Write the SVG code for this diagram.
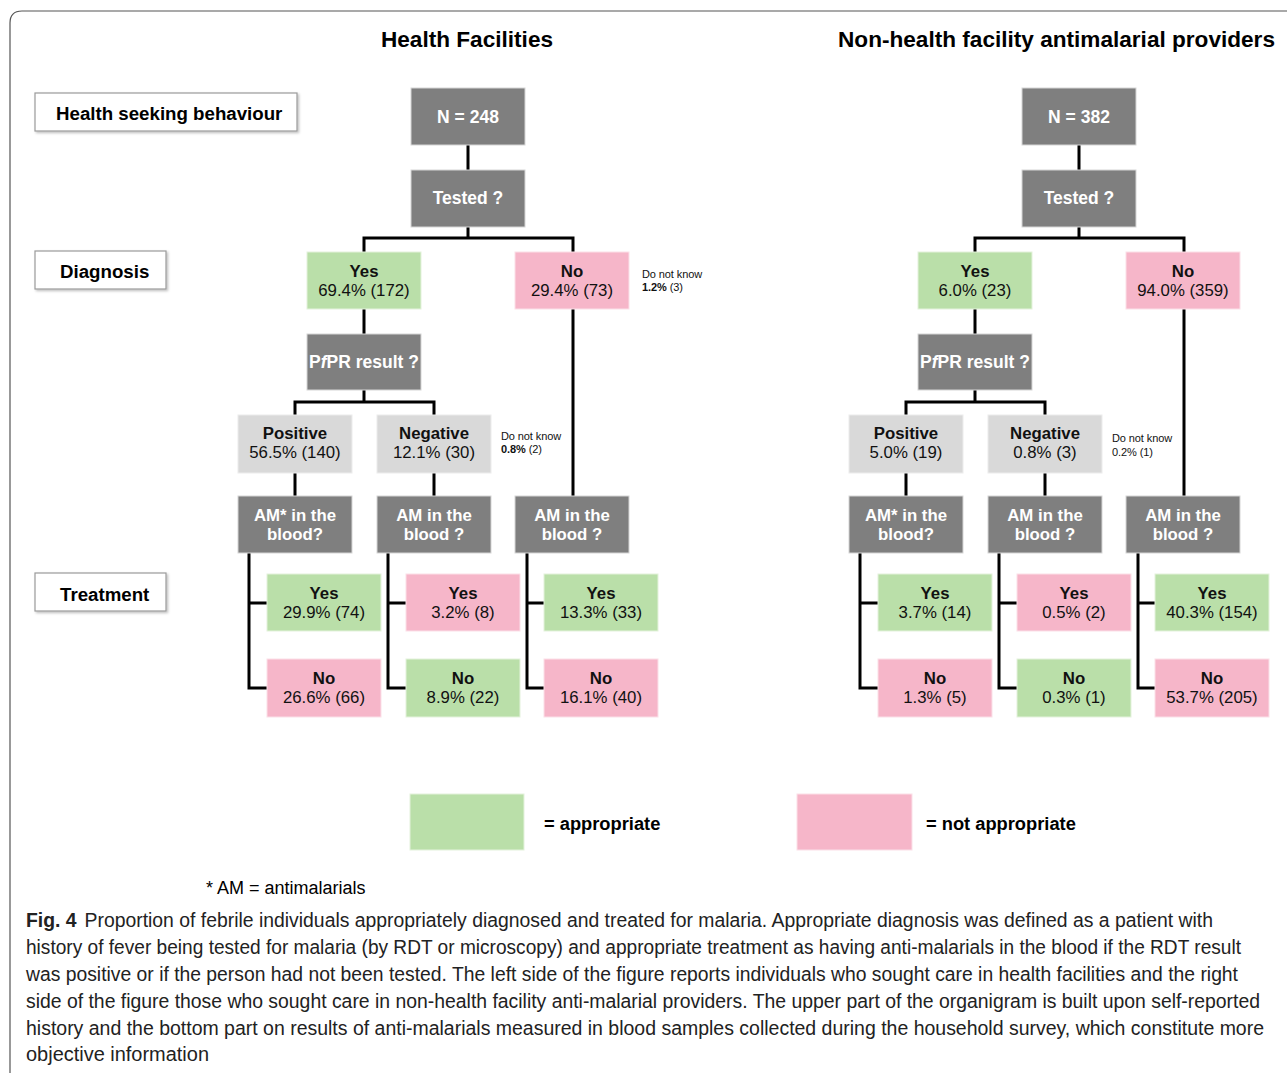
<svg xmlns="http://www.w3.org/2000/svg" width="1287" height="1073" viewBox="0 0 1287 1073">
<style>
text{font-family:"Liberation Sans",Arial,sans-serif;}
.g{fill:#7f7f7f;stroke:#d6d6d6;stroke-width:1}
.l{fill:#d9d9d9;stroke:#ececec;stroke-width:1}
.ok{fill:#badfa9;stroke:#e4f2dc;stroke-width:1}
.no{fill:#f6b6c9;stroke:#fbe0e8;stroke-width:1}
.wt{fill:#fff;font-weight:bold;font-size:16.8px;text-anchor:middle}
.wt1{fill:#fff;font-weight:bold;font-size:17.5px;text-anchor:middle}
.bt{fill:#111;font-weight:bold;font-size:16.8px;text-anchor:middle}
.vt{fill:#111;font-size:16.8px;text-anchor:middle}
.sm{fill:#111;font-size:11px;letter-spacing:-0.1px}
.lab{fill:#fff;stroke:#9a9a9a;stroke-width:1.2}
.labt{fill:#000;font-weight:bold;font-size:18.7px}
.lgt{fill:#000;font-weight:bold;font-size:18.3px}
.ttl{fill:#000;font-weight:bold;font-size:22.6px;text-anchor:middle}
.cap{fill:#222;font-size:19.5px}
.conn path{fill:none;stroke:#000;stroke-width:3}
</style>
<defs>
<filter id="sh" x="-5%" y="-10%" width="115%" height="130%"><feDropShadow dx="1.5" dy="1.5" stdDeviation="1" flood-color="#000" flood-opacity="0.25"/></filter>
</defs>
<path d="M10 1073 V23 Q10 11 22 11 H1287" fill="none" stroke="#555" stroke-width="1.2"/>
<text class="ttl" x="467" y="47">Health Facilities</text>
<text class="ttl" x="1056.5" y="47">Non-health facility antimalarial providers</text>
<g id="label-hsb"><rect class="lab" x="35" y="93" width="262" height="38" filter="url(#sh)"/><text class="labt" x="56" y="120">Health seeking behaviour</text></g>
<g id="label-diag"><rect class="lab" x="35" y="251" width="131" height="38" filter="url(#sh)"/><text class="labt" x="60" y="278">Diagnosis</text></g>
<g id="label-treat"><rect class="lab" x="35" y="573" width="131" height="38" filter="url(#sh)"/><text class="labt" x="60" y="601">Treatment</text></g>
<g class="conn" id="connectors">
<path d="M468 145V170M468 227V238M364 252V238H573V252M364 309V334M364 390V402M295 415V402H434V415M573 309V496M295 473V496M434 473V496M249 553V688H267M249 603H267M388 553V688H406M388 603H406M527 553V688H544M527 603H544"/>
<path transform="translate(611 0)" d="M468 145V170M468 227V238M364 252V238H573V252M364 309V334M364 390V402M295 415V402H434V415M573 309V496M295 473V496M434 473V496M249 553V688H267M249 603H267M388 553V688H406M388 603H406M527 553V688H544M527 603H544"/>
</g>
<g id="hf-n"><rect class="g" x="411" y="88" width="114" height="57"/><text class="wt1" x="468" y="123">N = 248</text></g>
<g id="hf-tested"><rect class="g" x="411" y="170" width="114" height="57"/><text class="wt1" x="468" y="204">Tested ?</text></g>
<g id="hf-yes"><rect class="ok" x="307" y="252" width="114" height="57"/><text class="bt" x="364" y="277">Yes</text><text class="vt" x="364" y="296">69.4% (172)</text></g>
<g id="hf-no"><rect class="no" x="515" y="252" width="114" height="57"/><text class="bt" x="572" y="277">No</text><text class="vt" x="572" y="296">29.4% (73)</text></g>
<g id="hf-dnk1"><text class="sm" x="642" y="278">Do not know</text><text class="sm" x="642" y="291"><tspan font-weight="bold">1.2%</tspan> (3)</text></g>
<g id="hf-pfpr"><rect class="g" x="307" y="334" width="114" height="56"/><text class="wt1" x="364" y="368">P<tspan font-style="italic">f</tspan>PR result ?</text></g>
<g id="hf-pos"><rect class="l" x="238" y="415" width="114" height="58"/><text class="bt" x="295" y="439">Positive</text><text class="vt" x="295" y="458">56.5% (140)</text></g>
<g id="hf-neg"><rect class="l" x="377" y="415" width="114" height="58"/><text class="bt" x="434" y="439">Negative</text><text class="vt" x="434" y="458">12.1% (30)</text></g>
<g id="hf-dnk2"><text class="sm" x="501" y="440">Do not know</text><text class="sm" x="501" y="453"><tspan font-weight="bold">0.8%</tspan> (2)</text></g>
<g id="hf-am1"><rect class="g" x="238" y="496" width="114" height="57"/><text class="wt" x="295" y="521">AM* in the</text><text class="wt" x="295" y="540">blood?</text></g>
<g id="hf-am2"><rect class="g" x="377" y="496" width="114" height="57"/><text class="wt" x="434" y="521">AM in the</text><text class="wt" x="434" y="540">blood ?</text></g>
<g id="hf-am3"><rect class="g" x="515" y="496" width="114" height="57"/><text class="wt" x="572" y="521">AM in the</text><text class="wt" x="572" y="540">blood ?</text></g>
<g id="hf-y1"><rect class="ok" x="267" y="574" width="114" height="57"/><text class="bt" x="324" y="599">Yes</text><text class="vt" x="324" y="618">29.9% (74)</text></g>
<g id="hf-n1"><rect class="no" x="267" y="659" width="114" height="58"/><text class="bt" x="324" y="684">No</text><text class="vt" x="324" y="703">26.6% (66)</text></g>
<g id="hf-y2"><rect class="no" x="406" y="574" width="114" height="57"/><text class="bt" x="463" y="599">Yes</text><text class="vt" x="463" y="618">3.2% (8)</text></g>
<g id="hf-n2"><rect class="ok" x="406" y="659" width="114" height="58"/><text class="bt" x="463" y="684">No</text><text class="vt" x="463" y="703">8.9% (22)</text></g>
<g id="hf-y3"><rect class="ok" x="544" y="574" width="114" height="57"/><text class="bt" x="601" y="599">Yes</text><text class="vt" x="601" y="618">13.3% (33)</text></g>
<g id="hf-n3"><rect class="no" x="544" y="659" width="114" height="58"/><text class="bt" x="601" y="684">No</text><text class="vt" x="601" y="703">16.1% (40)</text></g>
<g id="nh-n"><rect class="g" x="1022" y="88" width="114" height="57"/><text class="wt1" x="1079" y="123">N = 382</text></g>
<g id="nh-tested"><rect class="g" x="1022" y="170" width="114" height="57"/><text class="wt1" x="1079" y="204">Tested ?</text></g>
<g id="nh-yes"><rect class="ok" x="918" y="252" width="114" height="57"/><text class="bt" x="975" y="277">Yes</text><text class="vt" x="975" y="296">6.0% (23)</text></g>
<g id="nh-no"><rect class="no" x="1126" y="252" width="114" height="57"/><text class="bt" x="1183" y="277">No</text><text class="vt" x="1183" y="296">94.0% (359)</text></g>
<g id="nh-pfpr"><rect class="g" x="918" y="334" width="114" height="56"/><text class="wt1" x="975" y="368">P<tspan font-style="italic">f</tspan>PR result ?</text></g>
<g id="nh-pos"><rect class="l" x="849" y="415" width="114" height="58"/><text class="bt" x="906" y="439">Positive</text><text class="vt" x="906" y="458">5.0% (19)</text></g>
<g id="nh-neg"><rect class="l" x="988" y="415" width="114" height="58"/><text class="bt" x="1045" y="439">Negative</text><text class="vt" x="1045" y="458">0.8% (3)</text></g>
<g id="nh-dnk"><text class="sm" x="1112" y="442">Do not know</text><text class="sm" x="1112" y="456">0.2% (1)</text></g>
<g id="nh-am1"><rect class="g" x="849" y="496" width="114" height="57"/><text class="wt" x="906" y="521">AM* in the</text><text class="wt" x="906" y="540">blood?</text></g>
<g id="nh-am2"><rect class="g" x="988" y="496" width="114" height="57"/><text class="wt" x="1045" y="521">AM in the</text><text class="wt" x="1045" y="540">blood ?</text></g>
<g id="nh-am3"><rect class="g" x="1126" y="496" width="114" height="57"/><text class="wt" x="1183" y="521">AM in the</text><text class="wt" x="1183" y="540">blood ?</text></g>
<g id="nh-y1"><rect class="ok" x="878" y="574" width="114" height="57"/><text class="bt" x="935" y="599">Yes</text><text class="vt" x="935" y="618">3.7% (14)</text></g>
<g id="nh-n1"><rect class="no" x="878" y="659" width="114" height="58"/><text class="bt" x="935" y="684">No</text><text class="vt" x="935" y="703">1.3% (5)</text></g>
<g id="nh-y2"><rect class="no" x="1017" y="574" width="114" height="57"/><text class="bt" x="1074" y="599">Yes</text><text class="vt" x="1074" y="618">0.5% (2)</text></g>
<g id="nh-n2"><rect class="ok" x="1017" y="659" width="114" height="58"/><text class="bt" x="1074" y="684">No</text><text class="vt" x="1074" y="703">0.3% (1)</text></g>
<g id="nh-y3"><rect class="ok" x="1155" y="574" width="114" height="57"/><text class="bt" x="1212" y="599">Yes</text><text class="vt" x="1212" y="618">40.3% (154)</text></g>
<g id="nh-n3"><rect class="no" x="1155" y="659" width="114" height="58"/><text class="bt" x="1212" y="684">No</text><text class="vt" x="1212" y="703">53.7% (205)</text></g>
<g id="legend-ok"><rect class="ok" x="410" y="794" width="114" height="56"/><text class="lgt" x="544" y="830">= appropriate</text></g>
<g id="legend-no"><rect class="no" x="797" y="794" width="115" height="56"/><text class="lgt" x="926" y="830">= not appropriate</text></g>
<text x="206" y="894" fill="#000" font-size="18px">* AM = antimalarials</text>
<g id="caption">
<text class="cap" x="26" y="927" textLength="1187" lengthAdjust="spacingAndGlyphs"><tspan font-weight="bold">Fig. 4</tspan><tspan dx="8">Proportion of febrile individuals appropriately diagnosed and treated for malaria. Appropriate diagnosis was defined as a patient with</tspan></text>
<text class="cap" x="26" y="954" textLength="1215" lengthAdjust="spacingAndGlyphs">history of fever being tested for malaria (by RDT or microscopy) and appropriate treatment as having anti-malarials in the blood if the RDT result</text>
<text class="cap" x="26" y="981" textLength="1212" lengthAdjust="spacingAndGlyphs">was positive or if the person had not been tested. The left side of the figure reports individuals who sought care in health facilities and the right</text>
<text class="cap" x="26" y="1008" textLength="1234" lengthAdjust="spacingAndGlyphs">side of the figure those who sought care in non-health facility anti-malarial providers. The upper part of the organigram is built upon self-reported</text>
<text class="cap" x="26" y="1035" textLength="1238" lengthAdjust="spacingAndGlyphs">history and the bottom part on results of anti-malarials measured in blood samples collected during the household survey, which constitute more</text>
<text class="cap" x="26" y="1061" textLength="183" lengthAdjust="spacingAndGlyphs">objective information</text>
</g>
</svg>
